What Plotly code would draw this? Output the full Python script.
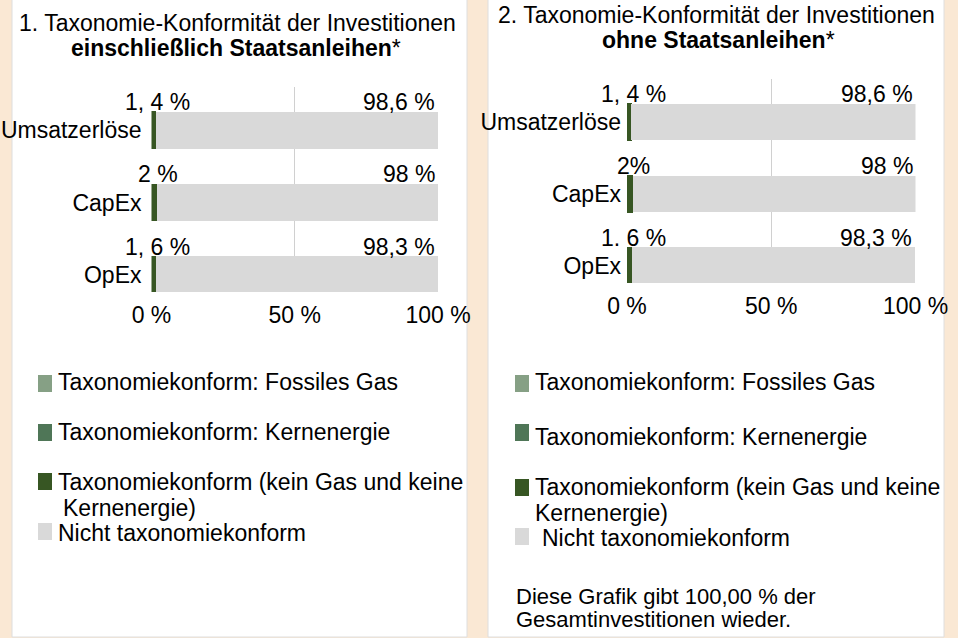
import plotly.graph_objects as go

W, H = 958, 638

categories = ["Umsatzerlöse", "CapEx", "OpEx"]

# Panel 1 (incl. sovereign bonds)
p1_gas = [0, 0, 0]
p1_nuclear = [0, 0, 0]
p1_aligned = [1.4, 2.0, 1.6]
p1_not_aligned = [98.6, 98.0, 98.3]
p1_small_labels = ["1, 4 %", "2 %", "1, 6 %"]
p1_big_labels = ["98,6 %", "98 %", "98,3 %"]

# Panel 2 (excl. sovereign bonds)
p2_gas = [0, 0, 0]
p2_nuclear = [0, 0, 0]
p2_aligned = [1.4, 2.0, 1.6]
p2_not_aligned = [98.6, 98.0, 98.3]
p2_small_labels = ["1, 4 %", "2%", "1. 6 %"]
p2_big_labels = ["98,6 %", "98 %", "98,3 %"]

x_tickvals = [0, 50, 100]
x_ticktext = ["0 %", "50 %", "100 %"]

series_names = [
    "Taxonomiekonform: Fossiles Gas",
    "Taxonomiekonform: Kernenergie",
    "Taxonomiekonform (kein Gas und keine Kernenergie)",
    "Nicht taxonomiekonform",
]
title1 = ["1. Taxonomie-Konformität der Investitionen", "<b>einschließlich Staatsanleihen</b>*"]
title2 = ["2. Taxonomie-Konformität der Investitionen", "<b>ohne Staatsanleihen</b>*"]
footnote = ["Diese Grafik gibt 100,00 % der", "Gesamtinvestitionen wieder."]

C_GAS = "#86A085"
C_NUC = "#4F7657"
C_ALI = "#375623"
C_NOT = "#D9D9D9"
BEIGE = "#FAE8D4"
FONT = "Liberation Sans, Arial, sans-serif"
FS = 23
colors = [C_GAS, C_NUC, C_ALI, C_NOT]
line_w = [0, 0, 1, 0]


def px(x):
    return x / W


def py(y):
    return 1 - y / H


fig = go.Figure()

panels = [
    (p1_gas, p1_nuclear, p1_aligned, p1_not_aligned, "x", "y"),
    (p2_gas, p2_nuclear, p2_aligned, p2_not_aligned, "x2", "y2"),
]
for gas, nuc, ali, nota, xa, ya in panels:
    for name, vals, col, lw in zip(series_names, [gas, nuc, ali, nota], colors, line_w):
        fig.add_trace(go.Bar(
            y=categories, x=vals, orientation="h", name=name,
            marker=dict(color=col, line=dict(width=lw, color=col)),
            xaxis=xa, yaxis=ya, showlegend=False, width=0.51,
        ))

annotations = []
for ali, nota, small, big, xr, yr in [
    (p1_aligned, p1_not_aligned, p1_small_labels, p1_big_labels, "x", "y"),
    (p2_aligned, p2_not_aligned, p2_small_labels, p2_big_labels, "x2", "y2"),
]:
    for cat, a, n, s, b in zip(categories, ali, nota, small, big):
        annotations.append(dict(x=a / 2, y=cat, xref=xr, yref=yr, text=s, showarrow=False,
                                xanchor="center", yanchor="middle", xshift=4, yshift=28,
                                font=dict(family=FONT, size=FS, color="#000")))
        annotations.append(dict(x=a + n, y=cat, xref=xr, yref=yr, text=b, showarrow=False,
                                xanchor="right", yanchor="middle", xshift=-1, yshift=28,
                                font=dict(family=FONT, size=FS, color="#000")))


def txt(x, y, text, anchor="left", size=FS):
    annotations.append(dict(x=px(x), y=py(y), xref="paper", yref="paper", text=text,
                            showarrow=False, xanchor=anchor, yanchor="middle",
                            font=dict(family=FONT, size=size, color="#000")))


# titles
txt(237, 23, title1[0], "center")
txt(236, 48, title1[1], "center")
txt(716, 15, title2[0], "center")
txt(718, 40, title2[1], "center")

shapes = []
# panels
for x0, x1 in [(12, 467), (488, 944)]:
    shapes.append(dict(type="rect", xref="paper", yref="paper", x0=px(x0), x1=px(x1),
                       y0=py(637), y1=py(-2), fillcolor="white",
                       line=dict(color="#DEDEDE", width=1), layer="below"))


def legend_item(xs, ys, col, xt, yt, text):
    shapes.append(dict(type="rect", xref="paper", yref="paper", x0=px(xs), x1=px(xs + 14),
                       y0=py(ys + 8.5), y1=py(ys - 8.5), fillcolor=col, line=dict(width=0)))
    txt(xt, yt, text)


# left legend
legend_item(38, 383.5, C_GAS, 56, 382, series_names[0])
legend_item(38, 432.5, C_NUC, 56, 432, series_names[1])
legend_item(38, 481.5, C_ALI, 56, 482, "Taxonomiekonform (kein Gas und keine")
txt(61, 508, "Kernenergie)")
legend_item(38, 531.5, C_NOT, 56, 533, series_names[3])

# right legend
legend_item(515, 383.5, C_GAS, 533, 382, series_names[0])
legend_item(515, 432.5, C_NUC, 533, 437, series_names[1])
legend_item(515, 487.5, C_ALI, 533, 487, "Taxonomiekonform (kein Gas und keine")
txt(533, 513, "Kernenergie)")
legend_item(515, 536.5, C_NOT, 540, 538, series_names[3])

txt(514, 596, footnote[0], size=22)
txt(514, 619, footnote[1], size=22)

xaxis_common = dict(range=[0, 100], tickvals=x_tickvals, ticktext=x_ticktext, showgrid=True,
                    gridcolor="#D0D0D0", gridwidth=1, zeroline=False, showline=False,
                    ticks="", ticklabelstandoff=7, automargin=False,
                    tickfont=dict(family=FONT, size=FS, color="#000"), fixedrange=True)
yaxis_common = dict(type="category", categoryorder="array", categoryarray=categories,
                    showgrid=False, zeroline=False, showline=False, ticks="", automargin=False,
                    tickfont=dict(family=FONT, size=FS, color="#000"), fixedrange=True)

fig.update_layout(
    width=W, height=H, margin=dict(l=0, r=0, t=0, b=0, autoexpand=False),
    paper_bgcolor=BEIGE, plot_bgcolor="rgba(0,0,0,0)",
    barmode="stack", bargap=0.49, showlegend=False,
    font=dict(family=FONT, size=FS, color="#000"),
    xaxis=dict(domain=[px(151.5), px(438)], anchor="y", **xaxis_common),
    yaxis=dict(domain=[py(292), py(87)], anchor="x", range=[2.24, -0.6],
               ticklabelstandoff=9, **yaxis_common),
    xaxis2=dict(domain=[px(627), px(915.5)], anchor="y2", **xaxis_common),
    yaxis2=dict(domain=[py(283), py(79)], anchor="x2", range=[2.24, -0.6],
                ticklabelstandoff=5, **yaxis_common),
    annotations=annotations, shapes=shapes,
)

fig.write_html(
    "out.html",
    config={"displayModeBar": False},
    post_script="document.body.style.margin='0';document.body.style.background='%s';" % BEIGE,
)
